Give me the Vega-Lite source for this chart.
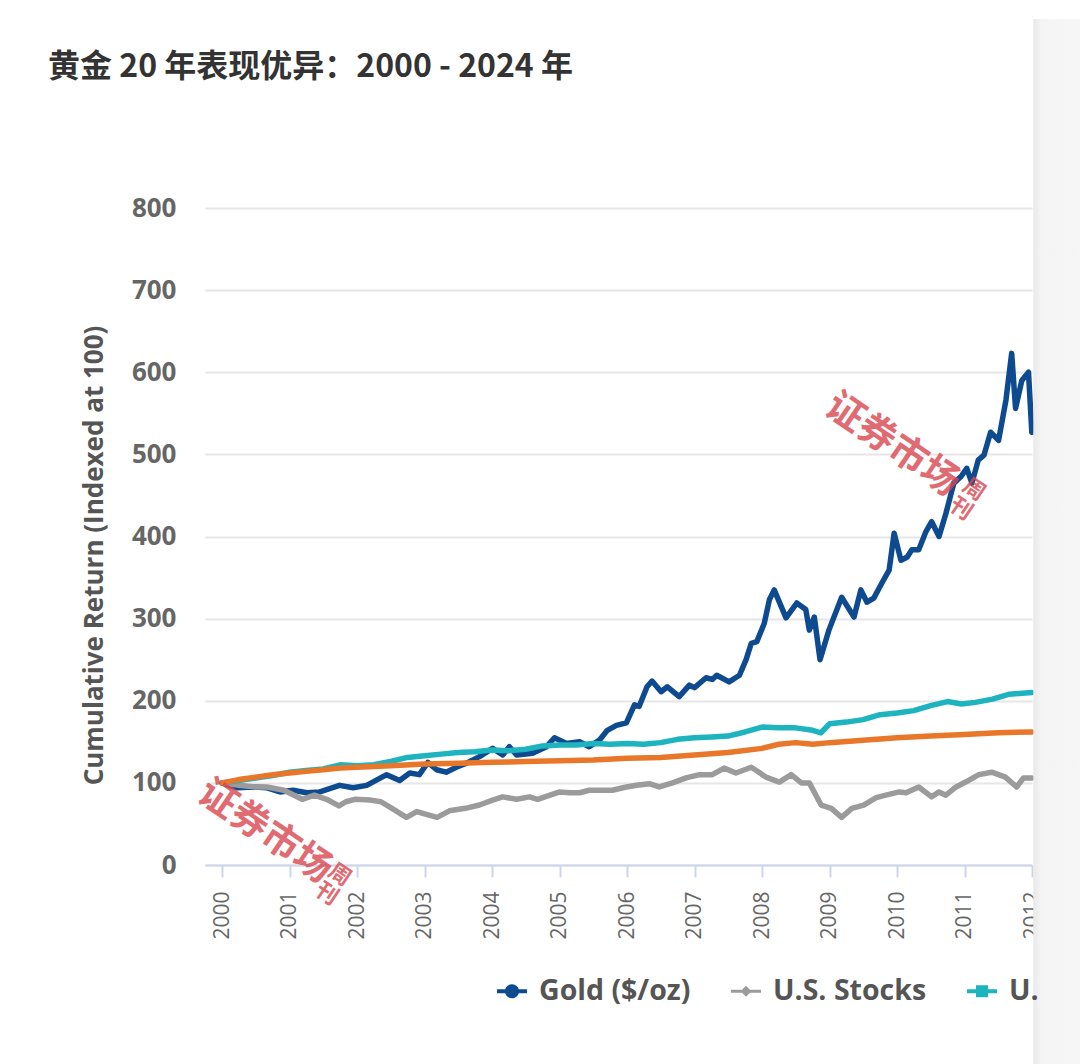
{
  "$schema": "https://vega.github.io/schema/vega-lite/v6.json",
  "description": "黄金 20 年表现优异：2000 - 2024 年",
  "width": 827,
  "height": 657,
  "autosize": "none",
  "padding": {"left": 205, "top": 208, "right": 48, "bottom": 199},
  "background": "white",
  "config": {
    "font": "Open Sans",
    "view": {"stroke": null}
  },
  "title": {
    "text": "黄金 20 年表现优异：2000 - 2024 年",
    "anchor": "start",
    "frame": "group",
    "dx": -157,
    "offset": 0,
    "dy": 90,
    "baseline": "alphabetic",
    "font": "Noto Sans CJK SC",
    "fontSize": 32,
    "fontWeight": "bold",
    "color": "#333333"
  },
  "datasets": {
    "returns": [
      {"date": "2000-01-01", "series": "Gold ($/oz)", "value": 100},
      {"date": "2000-03-22", "series": "Gold ($/oz)", "value": 94},
      {"date": "2000-06-16", "series": "Gold ($/oz)", "value": 95},
      {"date": "2000-09-01", "series": "Gold ($/oz)", "value": 94},
      {"date": "2000-11-10", "series": "Gold ($/oz)", "value": 89},
      {"date": "2001-01-19", "series": "Gold ($/oz)", "value": 91},
      {"date": "2001-04-04", "series": "Gold ($/oz)", "value": 88},
      {"date": "2001-06-13", "series": "Gold ($/oz)", "value": 89},
      {"date": "2001-09-28", "series": "Gold ($/oz)", "value": 97},
      {"date": "2001-12-10", "series": "Gold ($/oz)", "value": 94},
      {"date": "2002-02-22", "series": "Gold ($/oz)", "value": 97},
      {"date": "2002-06-10", "series": "Gold ($/oz)", "value": 110},
      {"date": "2002-08-19", "series": "Gold ($/oz)", "value": 103},
      {"date": "2002-10-13", "series": "Gold ($/oz)", "value": 112},
      {"date": "2002-12-04", "series": "Gold ($/oz)", "value": 110},
      {"date": "2003-01-19", "series": "Gold ($/oz)", "value": 125},
      {"date": "2003-03-07", "series": "Gold ($/oz)", "value": 116},
      {"date": "2003-04-28", "series": "Gold ($/oz)", "value": 113},
      {"date": "2003-06-22", "series": "Gold ($/oz)", "value": 119},
      {"date": "2003-08-16", "series": "Gold ($/oz)", "value": 124},
      {"date": "2003-10-25", "series": "Gold ($/oz)", "value": 132},
      {"date": "2004-01-04", "series": "Gold ($/oz)", "value": 142},
      {"date": "2004-02-28", "series": "Gold ($/oz)", "value": 134},
      {"date": "2004-04-04", "series": "Gold ($/oz)", "value": 144},
      {"date": "2004-05-13", "series": "Gold ($/oz)", "value": 134},
      {"date": "2004-08-07", "series": "Gold ($/oz)", "value": 136},
      {"date": "2004-10-22", "series": "Gold ($/oz)", "value": 144},
      {"date": "2004-12-04", "series": "Gold ($/oz)", "value": 155},
      {"date": "2005-02-07", "series": "Gold ($/oz)", "value": 148},
      {"date": "2005-04-19", "series": "Gold ($/oz)", "value": 150},
      {"date": "2005-06-10", "series": "Gold ($/oz)", "value": 144},
      {"date": "2005-08-04", "series": "Gold ($/oz)", "value": 152},
      {"date": "2005-09-16", "series": "Gold ($/oz)", "value": 164},
      {"date": "2005-11-04", "series": "Gold ($/oz)", "value": 170},
      {"date": "2005-12-28", "series": "Gold ($/oz)", "value": 173},
      {"date": "2006-02-10", "series": "Gold ($/oz)", "value": 195},
      {"date": "2006-03-07", "series": "Gold ($/oz)", "value": 193},
      {"date": "2006-04-19", "series": "Gold ($/oz)", "value": 217},
      {"date": "2006-05-16", "series": "Gold ($/oz)", "value": 224},
      {"date": "2006-07-04", "series": "Gold ($/oz)", "value": 211},
      {"date": "2006-08-07", "series": "Gold ($/oz)", "value": 217},
      {"date": "2006-10-10", "series": "Gold ($/oz)", "value": 205},
      {"date": "2006-12-04", "series": "Gold ($/oz)", "value": 219},
      {"date": "2007-01-01", "series": "Gold ($/oz)", "value": 216},
      {"date": "2007-03-04", "series": "Gold ($/oz)", "value": 228},
      {"date": "2007-04-07", "series": "Gold ($/oz)", "value": 226},
      {"date": "2007-05-01", "series": "Gold ($/oz)", "value": 231},
      {"date": "2007-07-07", "series": "Gold ($/oz)", "value": 223},
      {"date": "2007-09-01", "series": "Gold ($/oz)", "value": 231},
      {"date": "2007-10-07", "series": "Gold ($/oz)", "value": 250},
      {"date": "2007-11-04", "series": "Gold ($/oz)", "value": 270},
      {"date": "2007-12-04", "series": "Gold ($/oz)", "value": 272},
      {"date": "2008-01-13", "series": "Gold ($/oz)", "value": 294},
      {"date": "2008-02-10", "series": "Gold ($/oz)", "value": 323},
      {"date": "2008-03-07", "series": "Gold ($/oz)", "value": 335},
      {"date": "2008-05-10", "series": "Gold ($/oz)", "value": 301},
      {"date": "2008-07-07", "series": "Gold ($/oz)", "value": 319},
      {"date": "2008-08-25", "series": "Gold ($/oz)", "value": 311},
      {"date": "2008-09-13", "series": "Gold ($/oz)", "value": 286},
      {"date": "2008-10-10", "series": "Gold ($/oz)", "value": 302},
      {"date": "2008-11-10", "series": "Gold ($/oz)", "value": 250},
      {"date": "2008-12-28", "series": "Gold ($/oz)", "value": 286},
      {"date": "2009-03-07", "series": "Gold ($/oz)", "value": 326},
      {"date": "2009-05-13", "series": "Gold ($/oz)", "value": 302},
      {"date": "2009-06-19", "series": "Gold ($/oz)", "value": 335},
      {"date": "2009-07-22", "series": "Gold ($/oz)", "value": 320},
      {"date": "2009-08-28", "series": "Gold ($/oz)", "value": 325},
      {"date": "2009-10-10", "series": "Gold ($/oz)", "value": 343},
      {"date": "2009-11-19", "series": "Gold ($/oz)", "value": 359},
      {"date": "2009-12-16", "series": "Gold ($/oz)", "value": 404},
      {"date": "2010-01-22", "series": "Gold ($/oz)", "value": 371},
      {"date": "2010-02-25", "series": "Gold ($/oz)", "value": 375},
      {"date": "2010-03-22", "series": "Gold ($/oz)", "value": 384},
      {"date": "2010-04-28", "series": "Gold ($/oz)", "value": 384},
      {"date": "2010-06-04", "series": "Gold ($/oz)", "value": 405},
      {"date": "2010-07-07", "series": "Gold ($/oz)", "value": 418},
      {"date": "2010-08-16", "series": "Gold ($/oz)", "value": 400},
      {"date": "2010-09-22", "series": "Gold ($/oz)", "value": 428},
      {"date": "2010-11-04", "series": "Gold ($/oz)", "value": 465},
      {"date": "2010-12-13", "series": "Gold ($/oz)", "value": 473},
      {"date": "2011-01-13", "series": "Gold ($/oz)", "value": 483},
      {"date": "2011-02-10", "series": "Gold ($/oz)", "value": 465},
      {"date": "2011-03-16", "series": "Gold ($/oz)", "value": 493},
      {"date": "2011-04-16", "series": "Gold ($/oz)", "value": 499},
      {"date": "2011-05-22", "series": "Gold ($/oz)", "value": 527},
      {"date": "2011-07-04", "series": "Gold ($/oz)", "value": 517},
      {"date": "2011-08-13", "series": "Gold ($/oz)", "value": 566},
      {"date": "2011-09-13", "series": "Gold ($/oz)", "value": 623},
      {"date": "2011-10-04", "series": "Gold ($/oz)", "value": 556},
      {"date": "2011-11-07", "series": "Gold ($/oz)", "value": 590},
      {"date": "2011-12-13", "series": "Gold ($/oz)", "value": 600},
      {"date": "2011-12-31", "series": "Gold ($/oz)", "value": 527},

      {"date": "2000-01-01", "series": "U.S. Stocks", "value": 100},
      {"date": "2000-04-01", "series": "U.S. Stocks", "value": 97},
      {"date": "2000-07-01", "series": "U.S. Stocks", "value": 95},
      {"date": "2000-09-01", "series": "U.S. Stocks", "value": 95},
      {"date": "2000-12-01", "series": "U.S. Stocks", "value": 91},
      {"date": "2001-03-10", "series": "U.S. Stocks", "value": 80},
      {"date": "2001-05-15", "series": "U.S. Stocks", "value": 85},
      {"date": "2001-07-20", "series": "U.S. Stocks", "value": 80},
      {"date": "2001-09-25", "series": "U.S. Stocks", "value": 72},
      {"date": "2001-11-01", "series": "U.S. Stocks", "value": 77},
      {"date": "2001-12-20", "series": "U.S. Stocks", "value": 80},
      {"date": "2002-03-15", "series": "U.S. Stocks", "value": 79},
      {"date": "2002-05-10", "series": "U.S. Stocks", "value": 77},
      {"date": "2002-07-15", "series": "U.S. Stocks", "value": 68},
      {"date": "2002-09-25", "series": "U.S. Stocks", "value": 58},
      {"date": "2002-11-20", "series": "U.S. Stocks", "value": 65},
      {"date": "2003-01-20", "series": "U.S. Stocks", "value": 61},
      {"date": "2003-03-10", "series": "U.S. Stocks", "value": 58},
      {"date": "2003-05-15", "series": "U.S. Stocks", "value": 66},
      {"date": "2003-08-10", "series": "U.S. Stocks", "value": 69},
      {"date": "2003-10-25", "series": "U.S. Stocks", "value": 73},
      {"date": "2004-01-04", "series": "U.S. Stocks", "value": 79},
      {"date": "2004-02-28", "series": "U.S. Stocks", "value": 83},
      {"date": "2004-05-13", "series": "U.S. Stocks", "value": 80},
      {"date": "2004-07-22", "series": "U.S. Stocks", "value": 83},
      {"date": "2004-09-04", "series": "U.S. Stocks", "value": 80},
      {"date": "2005-01-01", "series": "U.S. Stocks", "value": 89},
      {"date": "2005-02-25", "series": "U.S. Stocks", "value": 88},
      {"date": "2005-04-19", "series": "U.S. Stocks", "value": 88},
      {"date": "2005-06-10", "series": "U.S. Stocks", "value": 91},
      {"date": "2005-10-13", "series": "U.S. Stocks", "value": 91},
      {"date": "2005-12-28", "series": "U.S. Stocks", "value": 95},
      {"date": "2006-02-22", "series": "U.S. Stocks", "value": 97},
      {"date": "2006-05-01", "series": "U.S. Stocks", "value": 99},
      {"date": "2006-06-25", "series": "U.S. Stocks", "value": 95},
      {"date": "2006-09-04", "series": "U.S. Stocks", "value": 100},
      {"date": "2006-11-16", "series": "U.S. Stocks", "value": 106},
      {"date": "2007-01-28", "series": "U.S. Stocks", "value": 110},
      {"date": "2007-04-07", "series": "U.S. Stocks", "value": 110},
      {"date": "2007-06-10", "series": "U.S. Stocks", "value": 118},
      {"date": "2007-08-13", "series": "U.S. Stocks", "value": 112},
      {"date": "2007-11-04", "series": "U.S. Stocks", "value": 119},
      {"date": "2007-12-16", "series": "U.S. Stocks", "value": 113},
      {"date": "2008-01-22", "series": "U.S. Stocks", "value": 107},
      {"date": "2008-04-04", "series": "U.S. Stocks", "value": 101},
      {"date": "2008-06-07", "series": "U.S. Stocks", "value": 110},
      {"date": "2008-08-01", "series": "U.S. Stocks", "value": 100},
      {"date": "2008-09-13", "series": "U.S. Stocks", "value": 100},
      {"date": "2008-11-16", "series": "U.S. Stocks", "value": 73},
      {"date": "2009-01-10", "series": "U.S. Stocks", "value": 69},
      {"date": "2009-03-07", "series": "U.S. Stocks", "value": 58},
      {"date": "2009-05-01", "series": "U.S. Stocks", "value": 69},
      {"date": "2009-07-04", "series": "U.S. Stocks", "value": 73},
      {"date": "2009-09-10", "series": "U.S. Stocks", "value": 82},
      {"date": "2009-11-01", "series": "U.S. Stocks", "value": 85},
      {"date": "2010-01-13", "series": "U.S. Stocks", "value": 89},
      {"date": "2010-02-19", "series": "U.S. Stocks", "value": 88},
      {"date": "2010-04-28", "series": "U.S. Stocks", "value": 95},
      {"date": "2010-07-07", "series": "U.S. Stocks", "value": 83},
      {"date": "2010-08-16", "series": "U.S. Stocks", "value": 89},
      {"date": "2010-09-22", "series": "U.S. Stocks", "value": 85},
      {"date": "2010-11-16", "series": "U.S. Stocks", "value": 95},
      {"date": "2011-01-07", "series": "U.S. Stocks", "value": 101},
      {"date": "2011-03-19", "series": "U.S. Stocks", "value": 110},
      {"date": "2011-05-28", "series": "U.S. Stocks", "value": 113},
      {"date": "2011-08-10", "series": "U.S. Stocks", "value": 107},
      {"date": "2011-10-10", "series": "U.S. Stocks", "value": 95},
      {"date": "2011-11-16", "series": "U.S. Stocks", "value": 106},
      {"date": "2011-12-31", "series": "U.S. Stocks", "value": 106},

      {"date": "2000-01-01", "series": "U.S. Bonds", "value": 100},
      {"date": "2000-04-01", "series": "U.S. Bonds", "value": 103},
      {"date": "2000-07-01", "series": "U.S. Bonds", "value": 106},
      {"date": "2000-10-01", "series": "U.S. Bonds", "value": 109},
      {"date": "2001-01-01", "series": "U.S. Bonds", "value": 113},
      {"date": "2001-04-01", "series": "U.S. Bonds", "value": 115},
      {"date": "2001-07-01", "series": "U.S. Bonds", "value": 117},
      {"date": "2001-10-01", "series": "U.S. Bonds", "value": 122},
      {"date": "2002-01-01", "series": "U.S. Bonds", "value": 121},
      {"date": "2002-04-01", "series": "U.S. Bonds", "value": 122},
      {"date": "2002-07-01", "series": "U.S. Bonds", "value": 126},
      {"date": "2002-10-01", "series": "U.S. Bonds", "value": 131},
      {"date": "2003-01-01", "series": "U.S. Bonds", "value": 133},
      {"date": "2003-04-01", "series": "U.S. Bonds", "value": 135},
      {"date": "2003-07-01", "series": "U.S. Bonds", "value": 137},
      {"date": "2003-10-01", "series": "U.S. Bonds", "value": 138},
      {"date": "2004-01-01", "series": "U.S. Bonds", "value": 140},
      {"date": "2004-04-01", "series": "U.S. Bonds", "value": 139},
      {"date": "2004-07-01", "series": "U.S. Bonds", "value": 141},
      {"date": "2004-10-01", "series": "U.S. Bonds", "value": 145},
      {"date": "2005-01-01", "series": "U.S. Bonds", "value": 146},
      {"date": "2005-04-01", "series": "U.S. Bonds", "value": 146},
      {"date": "2005-07-01", "series": "U.S. Bonds", "value": 148},
      {"date": "2005-10-01", "series": "U.S. Bonds", "value": 147},
      {"date": "2006-01-01", "series": "U.S. Bonds", "value": 148},
      {"date": "2006-04-01", "series": "U.S. Bonds", "value": 147},
      {"date": "2006-07-01", "series": "U.S. Bonds", "value": 149},
      {"date": "2006-10-01", "series": "U.S. Bonds", "value": 153},
      {"date": "2007-01-01", "series": "U.S. Bonds", "value": 155},
      {"date": "2007-04-01", "series": "U.S. Bonds", "value": 156},
      {"date": "2007-07-01", "series": "U.S. Bonds", "value": 157},
      {"date": "2007-10-01", "series": "U.S. Bonds", "value": 162},
      {"date": "2008-01-01", "series": "U.S. Bonds", "value": 168},
      {"date": "2008-04-01", "series": "U.S. Bonds", "value": 167},
      {"date": "2008-07-01", "series": "U.S. Bonds", "value": 167},
      {"date": "2008-10-01", "series": "U.S. Bonds", "value": 164},
      {"date": "2008-11-15", "series": "U.S. Bonds", "value": 161},
      {"date": "2009-01-01", "series": "U.S. Bonds", "value": 172},
      {"date": "2009-04-01", "series": "U.S. Bonds", "value": 174},
      {"date": "2009-07-01", "series": "U.S. Bonds", "value": 177},
      {"date": "2009-10-01", "series": "U.S. Bonds", "value": 183},
      {"date": "2010-01-01", "series": "U.S. Bonds", "value": 185},
      {"date": "2010-04-01", "series": "U.S. Bonds", "value": 188},
      {"date": "2010-07-01", "series": "U.S. Bonds", "value": 194},
      {"date": "2010-10-01", "series": "U.S. Bonds", "value": 199},
      {"date": "2010-12-15", "series": "U.S. Bonds", "value": 196},
      {"date": "2011-03-01", "series": "U.S. Bonds", "value": 198},
      {"date": "2011-06-01", "series": "U.S. Bonds", "value": 202},
      {"date": "2011-09-01", "series": "U.S. Bonds", "value": 208},
      {"date": "2011-12-31", "series": "U.S. Bonds", "value": 210},

      {"date": "2000-01-01", "series": "U.S. Cash", "value": 100},
      {"date": "2000-04-01", "series": "U.S. Cash", "value": 104},
      {"date": "2000-07-01", "series": "U.S. Cash", "value": 107},
      {"date": "2000-10-01", "series": "U.S. Cash", "value": 110},
      {"date": "2001-01-01", "series": "U.S. Cash", "value": 112},
      {"date": "2001-04-01", "series": "U.S. Cash", "value": 114},
      {"date": "2001-07-01", "series": "U.S. Cash", "value": 116},
      {"date": "2001-10-01", "series": "U.S. Cash", "value": 118},
      {"date": "2002-01-01", "series": "U.S. Cash", "value": 119},
      {"date": "2002-07-01", "series": "U.S. Cash", "value": 121},
      {"date": "2003-01-01", "series": "U.S. Cash", "value": 123},
      {"date": "2003-07-01", "series": "U.S. Cash", "value": 124},
      {"date": "2004-01-01", "series": "U.S. Cash", "value": 125},
      {"date": "2004-07-01", "series": "U.S. Cash", "value": 126},
      {"date": "2005-01-01", "series": "U.S. Cash", "value": 127},
      {"date": "2005-07-01", "series": "U.S. Cash", "value": 128},
      {"date": "2006-01-01", "series": "U.S. Cash", "value": 130},
      {"date": "2006-07-01", "series": "U.S. Cash", "value": 131},
      {"date": "2007-01-01", "series": "U.S. Cash", "value": 134},
      {"date": "2007-07-01", "series": "U.S. Cash", "value": 137},
      {"date": "2008-01-01", "series": "U.S. Cash", "value": 142},
      {"date": "2008-04-01", "series": "U.S. Cash", "value": 147},
      {"date": "2008-07-01", "series": "U.S. Cash", "value": 149},
      {"date": "2008-10-01", "series": "U.S. Cash", "value": 147},
      {"date": "2009-01-01", "series": "U.S. Cash", "value": 149},
      {"date": "2009-07-01", "series": "U.S. Cash", "value": 152},
      {"date": "2010-01-01", "series": "U.S. Cash", "value": 155},
      {"date": "2010-07-01", "series": "U.S. Cash", "value": 157},
      {"date": "2011-01-01", "series": "U.S. Cash", "value": 159},
      {"date": "2011-07-01", "series": "U.S. Cash", "value": 161},
      {"date": "2011-12-31", "series": "U.S. Cash", "value": 162}
    ]
  },
  "data": {"name": "returns"},
  "layer": [
    {
      "transform": [{"filter": "false"}],
      "mark": {"type": "point", "filled": true, "opacity": 1},
      "encoding": {
        "x": {"field": "date", "type": "temporal"},
        "y": {"field": "value", "type": "quantitative"},
        "color": {
          "field": "series",
          "type": "nominal",
          "scale": {
            "domain": ["Gold ($/oz)", "U.S. Stocks", "U.S. Bonds", "U.S. Cash"],
            "range": ["#0d4a8f", "#9b9b9b", "#1db3bf", "#e8772a"]
          },
          "legend": {
            "title": null,
            "orient": "none",
            "legendX": 292,
            "legendY": 768,
            "direction": "horizontal",
            "values": ["Gold ($/oz)", "U.S. Stocks", "U.S. Bonds"],
            "labelExpr": "datum.label == 'U.S. Bonds' ? 'U.' : datum.label",
            "labelFont": "Open Sans",
            "labelFontSize": 28.5,
            "labelFontWeight": "bold",
            "labelColor": "#555555",
            "labelOffset": 12,
            "columnPadding": 40,
            "symbolSize": 900,
            "symbolStrokeWidth": 0,
            "symbolOpacity": 1
          }
        },
        "shape": {
          "field": "series",
          "type": "nominal",
          "scale": {
            "domain": ["Gold ($/oz)", "U.S. Stocks", "U.S. Bonds", "U.S. Cash"],
            "range": [
              "M-1,-0.13H1V0.13H-1Z M0,-0.47A0.47,0.47,0,1,1,0,0.47A0.47,0.47,0,1,1,0,-0.47Z",
              "M-1,-0.1H1V0.1H-1Z M0,-0.36L0.36,0L0,0.36L-0.36,0Z",
              "M-1,-0.13H1V0.13H-1Z M-0.4,-0.4H0.4V0.4H-0.4Z",
              "M-1,-0.13H1V0.13H-1Z M-0.4,-0.4H0.4V0.4H-0.4Z"
            ]
          },
          "legend": {
            "title": null,
            "orient": "none",
            "legendX": 292,
            "legendY": 768,
            "direction": "horizontal",
            "values": ["Gold ($/oz)", "U.S. Stocks", "U.S. Bonds"],
            "labelExpr": "datum.label == 'U.S. Bonds' ? 'U.' : datum.label",
            "labelFont": "Open Sans",
            "labelFontSize": 28.5,
            "labelFontWeight": "bold",
            "labelColor": "#555555",
            "labelOffset": 12,
            "columnPadding": 40,
            "symbolSize": 900,
            "symbolStrokeWidth": 0,
            "symbolOpacity": 1
          }
        }
      }
    },
    {
      "mark": {"type": "line", "strokeWidth": 5.5, "strokeJoin": "round", "strokeCap": "round"},
      "encoding": {
        "x": {
          "field": "date",
          "type": "temporal",
          "scale": {
            "type": "utc",
            "domain": [
              {"year": 1999, "month": 10, "date": 1, "utc": true},
              {"year": 2012, "month": 1, "date": 1, "utc": true}
            ]
          },
          "axis": {
            "title": null,
            "format": "%Y",
            "tickCount": {"interval": "year", "step": 1},
            "labelAngle": 270,
            "labelAlign": "right",
            "labelBaseline": "middle",
            "labelFont": "Open Sans",
            "labelFontSize": 21,
            "labelColor": "#666666",
            "labelPadding": 14,
            "labelFlush": false,
            "labelOverlap": false,
            "tickSize": 12,
            "tickWidth": 2,
            "tickColor": "#ccd6eb",
            "domainColor": "#ccd6eb",
            "domainWidth": 2,
            "grid": false
          }
        },
        "y": {
          "field": "value",
          "type": "quantitative",
          "scale": {"domain": [0, 800], "nice": false, "zero": true},
          "axis": {
            "title": "Cumulative Return (Indexed at 100)",
            "values": [0, 100, 200, 300, 400, 500, 600, 700, 800],
            "labelFont": "Open Sans",
            "labelFontSize": 26,
            "labelFontWeight": "bold",
            "labelColor": "#666666",
            "labelPadding": 29,
            "ticks": false,
            "domain": false,
            "grid": true,
            "gridColor": "#e6e6e6",
            "gridWidth": 2,
            "titleFont": "Open Sans",
            "titleFontSize": 26,
            "titleFontWeight": "bold",
            "titleColor": "#555555",
            "titlePadding": 24,
            "titleY": 347
          }
        },
        "color": {
          "field": "series",
          "type": "nominal",
          "legend": null
        }
      }
    },
    {
      "data": {"values": [{}]},
      "mark": {"type": "text", "text": "证券市场", "angle": 34, "font": "Noto Sans CJK SC", "fontSize": 38, "fontWeight": "bold", "color": "#d9474f", "opacity": 0.8, "align": "center", "baseline": "middle"},
      "encoding": {
        "x": {"datum": {"year": 2000, "month": 8, "date": 19, "utc": true}, "type": "temporal"},
        "y": {"datum": 40, "type": "quantitative"}
      }
    },
    {
      "data": {"values": [{}]},
      "mark": {"type": "text", "text": ["周", "刊"], "angle": 34, "font": "Noto Sans CJK SC", "fontSize": 22, "lineHeight": 23, "fontWeight": "bold", "color": "#d9474f", "opacity": 0.8, "align": "center", "baseline": "middle"},
      "encoding": {
        "x": {"datum": {"year": 2001, "month": 9, "date": 29, "utc": true}, "type": "temporal"},
        "y": {"datum": -12, "type": "quantitative"}
      }
    },
    {
      "data": {"values": [{}]},
      "mark": {"type": "text", "text": "证券市场", "angle": 34, "font": "Noto Sans CJK SC", "fontSize": 38, "fontWeight": "bold", "color": "#d9474f", "opacity": 0.8, "align": "center", "baseline": "middle"},
      "encoding": {
        "x": {"datum": {"year": 2009, "month": 12, "date": 4, "utc": true}, "type": "temporal"},
        "y": {"datum": 511, "type": "quantitative"}
      }
    },
    {
      "data": {"values": [{}]},
      "mark": {"type": "text", "text": ["周", "刊"], "angle": 34, "font": "Noto Sans CJK SC", "fontSize": 22, "lineHeight": 23, "fontWeight": "bold", "color": "#d9474f", "opacity": 0.8, "align": "center", "baseline": "middle"},
      "encoding": {
        "x": {"datum": {"year": 2011, "month": 2, "date": 21, "utc": true}, "type": "temporal"},
        "y": {"datum": 457, "type": "quantitative"}
      }
    },
    {
      "data": {"values": [{}]},
      "mark": {
        "type": "rect",
        "clip": false,
        "stroke": null,
        "fill": {
          "gradient": "linear",
          "x1": 0, "y1": 0, "x2": 1, "y2": 0,
          "stops": [
            {"offset": 0, "color": "#e9e9e9"},
            {"offset": 0.12, "color": "#f4f4f4"},
            {"offset": 1, "color": "#f7f7f7"}
          ]
        }
      },
      "encoding": {
        "x": {"datum": {"year": 2012, "month": 1, "date": 8, "utc": true}, "type": "temporal"},
        "x2": {"datum": {"year": 2012, "month": 12, "date": 31, "utc": true}},
        "y": {"datum": -400, "type": "quantitative"},
        "y2": {"datum": 1030}
      }
    }
  ]
}
